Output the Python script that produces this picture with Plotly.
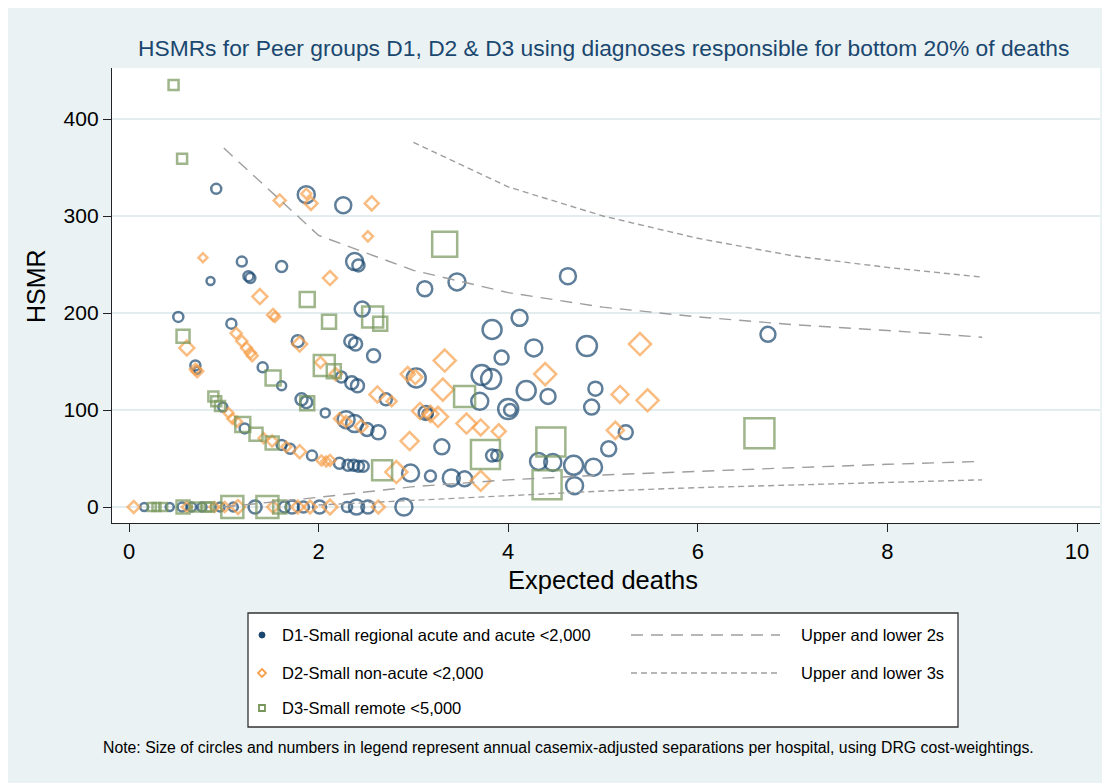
import plotly.graph_objects as go

# ---------------- data ----------------
# D1: Small regional acute and acute <2,000 (expected deaths, HSMR, separations)
d1_x = [0.92, 1.87, 2.26, 1.19, 0.86, 1.26, 1.28, 1.61, 2.38, 2.42,
        3.12, 3.46, 4.63, 0.52, 1.08, 2.46, 4.12, 3.83, 4.27, 4.83,
        6.74, 2.34, 2.39, 2.58, 3.93, 1.78, 0.70, 0.72, 1.41, 1.61,
        3.72, 3.82, 3.03, 4.19, 4.42, 4.92, 4.88, 3.70, 4.00, 4.02,
        2.24, 2.35, 2.41, 2.71, 1.82, 1.87, 2.07, 3.13, 3.15, 0.99,
        1.22, 1.61, 1.70, 1.93, 2.29, 2.38, 2.51, 2.63, 3.30, 3.83,
        3.88, 4.32, 4.47, 4.69, 4.90, 5.06, 5.24, 2.97, 3.18, 3.40,
        3.54, 4.70, 2.22, 2.31, 2.37, 2.42, 2.47,
        0.16, 0.43, 0.56, 0.66, 0.77, 0.96, 1.10, 1.33, 1.64, 1.72,
        1.84, 2.01, 2.30, 2.40, 2.52, 2.90]
d1_y = [328, 322, 311, 253, 233, 238, 236, 248, 253, 249,
        225, 232, 238, 196, 189, 204, 195, 183, 164, 166,
        178, 171, 168, 156, 154, 171, 146, 141, 144, 125,
        136, 132, 133, 120, 114, 122, 103, 109, 101, 100,
        134, 128, 125, 111, 111, 108, 97, 97, 96, 103,
        81, 64, 60, 53, 90, 86, 80, 77, 62, 53,
        53, 47, 46, 43, 41, 60, 77, 35, 32, 30,
        29, 22, 45, 43, 43, 42, 42,
        0, 0, 0, 0, 0, 0, 0, 0, 0, 0,
        0, 0, 0, 0, 0, 0]
d1_sep = [500, 1445, 1280, 500, 320, 500, 500, 605, 1445, 720,
          1125, 1445, 1280, 500, 500, 1125, 1280, 1805, 1445, 2000,
          1125, 845, 845, 845, 980, 720, 500, 245, 500, 405,
          2000, 2000, 1805, 1805, 1125, 980, 1125, 1445, 2000, 720,
          605, 845, 845, 720, 720, 720, 405, 980, 500, 405,
          500, 500, 500, 500, 1445, 1445, 845, 980, 1125, 720,
          605, 1445, 1445, 1805, 1445, 1125, 980, 1445, 605, 1445,
          1125, 1445, 605, 605, 605, 605, 605,
          320, 320, 405, 405, 405, 405, 405, 845, 605, 845,
          605, 845, 500, 1125, 845, 1445]

# D2: Small non-acute <2,000
d2_x = [1.59, 1.87, 1.92, 2.56, 2.52, 0.78, 2.12, 1.38, 1.52, 1.54,
        0.61, 1.13, 1.19, 1.24, 1.28, 1.30, 0.72, 0.70, 1.80, 3.33,
        4.39, 5.39, 5.47, 5.18, 3.31, 2.94, 3.02, 2.02, 2.18, 2.62,
        2.77, 3.07, 3.18, 3.26, 3.56, 3.71, 3.90, 2.96, 2.22, 2.29,
        2.45, 5.13, 3.71, 2.82, 1.05, 1.09, 1.14, 1.42, 1.51, 1.66,
        1.80, 2.03, 2.08, 2.12,
        0.05, 0.61, 0.90, 1.01, 1.15, 1.52, 1.78, 1.91, 2.12, 2.63]
d2_y = [316, 323, 313, 313, 279, 257, 236, 217, 198, 196,
        164, 179, 171, 164, 159, 156, 140, 142, 168, 151,
        137, 168, 110, 116, 121, 137, 134, 149, 137, 116,
        109, 99, 96, 93, 86, 82, 78, 68, 91, 88,
        83, 79, 27, 36, 97, 91, 88, 71, 68, 62,
        57, 48, 47, 48,
        0, 0, 0, 0, 0, 0, 0, 0, 0, 0]
d2_sep = [426, 296, 500, 580, 296, 240, 580, 666, 426, 296,
          666, 358, 358, 358, 358, 358, 426, 358, 666, 1432,
          1432, 1432, 1432, 855, 1432, 580, 580, 358, 426, 758,
          296, 758, 758, 1184, 1184, 758, 580, 959, 358, 358,
          500, 855, 1184, 1432, 296, 296, 296, 296, 358, 296,
          500, 296, 296, 358,
          426, 296, 296, 296, 580, 426, 500, 500, 666, 500]

# D3: Small remote <5,000
d3_x = [0.47, 0.56, 1.88, 3.33, 2.57, 2.65, 2.11, 0.57, 1.52, 2.06,
        2.16, 3.54, 1.88, 0.89, 0.92, 0.96, 1.20, 1.34, 1.51, 4.45,
        3.76, 6.65, 2.67, 4.41,
        0.24, 0.29, 0.36, 0.57, 0.71, 0.82, 0.85, 1.09, 1.46, 1.59]
d3_y = [435, 359, 214, 271, 196, 189, 191, 176, 133, 146,
        140, 114, 107, 114, 109, 104, 85, 75, 66, 67,
        54, 76, 38, 23,
        0, 0, 0, 0, 0, 0, 0, 0, 0, 0]
d3_sep = [500, 500, 1125, 3125, 2205, 980, 980, 845, 1125, 2205,
          980, 2205, 980, 500, 500, 500, 1125, 845, 845, 4205,
          4205, 4500, 2000, 4205,
          320, 320, 320, 845, 405, 405, 405, 2420, 2420, 845]

# Control limits
lim2_x = [1, 2, 3, 4, 5, 6, 7, 8, 9]
upper2 = [370, 280, 244, 221, 206, 196, 188, 182, 175]
lower2 = [0, 10, 21, 28, 33, 37, 40.5, 44, 47]
upper3_x = [3, 4, 5, 6, 7, 8, 9]
upper3 = [376, 330, 300, 277, 259, 247, 237]
lower3_x = [2, 3, 4, 5, 6, 7, 8, 9]
lower3 = [2, 7, 12, 16.5, 20, 22.5, 25.5, 28]

x_ticks = [0, 2, 4, 6, 8, 10]
y_ticks = [0, 100, 200, 300, 400]

title_text = "HSMRs for Peer groups D1, D2 &amp; D3 using diagnoses responsible for bottom 20% of deaths"
legend_labels = ["D1-Small regional acute and acute <2,000",
                 "D2-Small non-acute <2,000",
                 "D3-Small remote <5,000"]
line_labels = ["Upper and lower 2s", "Upper and lower 3s"]
note_text = ("Note: Size of circles and numbers in legend represent annual casemix-adjusted "
             "separations per hospital, using DRG cost-weightings.")

# ---------------- styling / layout ----------------
SW, SH = 1110, 783                # screenshot size
OFF = 8                           # page body margin
W, H = SW - OFF, SH - OFF         # figure size
L, R, T, B = 112, 1100, 68, 523   # plot area (screen px)
X0PX, XPU = 129, 94.8             # screen px of x=0, px per unit
Y0PX, YPU = 507, 0.970            # screen px of y=0, px per HSMR unit

xr = [(L - X0PX) / XPU, (R - X0PX) / XPU]
yr = [(Y0PX - B) / YPU, (Y0PX - T) / YPU]

def fx(px):
    return (px - L) / (R - L)

def fy(py):
    return (B - py) / (B - T)

NAVY = "#1A476F"
ORANGE = "#F6A04B"
GREEN = "#76955A"
GRAY = "#9E9E9E"
BG = "#EAF2F3"
FONT = "Liberation Sans, Arial, Helvetica, sans-serif"

def msize(sep):
    return [(s / 5.0) ** 0.5 for s in sep]

fig = go.Figure()

for xs, ys, sep, sym, col in [
    (d1_x, d1_y, d1_sep, "circle-open", NAVY),
    (d2_x, d2_y, d2_sep, "diamond-open", ORANGE),
    (d3_x, d3_y, d3_sep, "square-open", GREEN),
]:
    fig.add_trace(go.Scatter(
        x=xs, y=ys, mode="markers", showlegend=False, hoverinfo="skip",
        marker=dict(symbol=sym, size=msize(sep), color=col,
                    line=dict(color=col, width=2.5))))

long_dash = "12px,8px"
short_dash = "6px,4px"
for xs, ys, dash in [(lim2_x, upper2, long_dash), (lim2_x, lower2, long_dash),
                     (upper3_x, upper3, short_dash), (lower3_x, lower3, short_dash)]:
    fig.add_trace(go.Scatter(x=xs, y=ys, mode="lines", showlegend=False,
                             hoverinfo="skip",
                             line=dict(color=GRAY, width=1.4, dash=dash)))

shapes = []
# legend box
shapes.append(dict(type="rect", xref="paper", yref="paper",
                   x0=fx(248), x1=fx(958), y0=fy(727), y1=fy(613),
                   fillcolor="white", line=dict(color="#333333", width=1.3)))
rows = [635, 673, 708]
mx = 262
# D1 dot
shapes.append(dict(type="circle", xref="paper", yref="paper",
                   x0=fx(mx - 3), x1=fx(mx + 3), y0=fy(rows[0] + 3), y1=fy(rows[0] - 3),
                   fillcolor=NAVY, line=dict(color=NAVY, width=1)))
# D2 small diamond
r = 4
shapes.append(dict(type="path", xref="paper", yref="paper",
                   path=(f"M {fx(mx)},{fy(rows[1] - r)} L {fx(mx + r)},{fy(rows[1])} "
                         f"L {fx(mx)},{fy(rows[1] + r)} L {fx(mx - r)},{fy(rows[1])} Z"),
                   line=dict(color=ORANGE, width=1.8)))
# D3 small square
s = 3
shapes.append(dict(type="rect", xref="paper", yref="paper",
                   x0=fx(mx - s), x1=fx(mx + s), y0=fy(rows[2] + s), y1=fy(rows[2] - s),
                   line=dict(color=GREEN, width=1.8)))
# line samples
for yy, dash in [(rows[0], long_dash), (rows[1], short_dash)]:
    shapes.append(dict(type="line", xref="paper", yref="paper",
                       x0=fx(631), x1=fx(780), y0=fy(yy), y1=fy(yy),
                       line=dict(color=GRAY, width=1.4, dash=dash)))

annotations = []
annotations.append(dict(text=title_text, xref="paper", yref="paper",
                        x=fx(603), y=fy(48), xanchor="center", yanchor="middle",
                        showarrow=False, font=dict(family=FONT, size=22.8, color=NAVY)))
annotations.append(dict(text="Expected deaths", xref="paper", yref="paper",
                        x=fx(603), y=fy(580), xanchor="center", yanchor="middle",
                        showarrow=False, font=dict(family=FONT, size=25.5, color="black")))
annotations.append(dict(text="HSMR", xref="paper", yref="paper", textangle=-90,
                        x=fx(36), y=fy(286), xanchor="center", yanchor="middle",
                        showarrow=False, font=dict(family=FONT, size=25, color="black")))
for lbl, yy in zip(legend_labels, rows):
    annotations.append(dict(text=lbl.replace("<", "&lt;"), xref="paper", yref="paper",
                            x=fx(280), y=fy(yy), xanchor="left", yanchor="middle",
                            showarrow=False, font=dict(family=FONT, size=16.5, color="black")))
for lbl, yy in zip(line_labels, rows[:2]):
    annotations.append(dict(text=lbl, xref="paper", yref="paper",
                            x=fx(799), y=fy(yy), xanchor="left", yanchor="middle",
                            showarrow=False, font=dict(family=FONT, size=16.5, color="black")))
annotations.append(dict(text=note_text, xref="paper", yref="paper",
                        x=fx(568), y=fy(747), xanchor="center", yanchor="middle",
                        showarrow=False, font=dict(family=FONT, size=15.8, color="black")))

fig.update_layout(
    width=W, height=H,
    margin=dict(l=L - OFF, r=SW - R, t=T - OFF, b=SH - B, pad=0),
    paper_bgcolor=BG, plot_bgcolor="white",
    font=dict(family=FONT, size=21, color="black"),
    shapes=shapes, annotations=annotations,
    xaxis=dict(range=xr, tickvals=x_ticks, ticktext=[str(v) for v in x_ticks],
               showgrid=False, zeroline=False, showline=True, linecolor="#222222",
               linewidth=1.3, ticks="outside", ticklen=8, tickwidth=1.3,
               tickcolor="#222222", tickfont=dict(size=22), fixedrange=True),
    yaxis=dict(range=yr, tickvals=y_ticks, ticktext=[str(v) for v in y_ticks],
               showgrid=True, gridcolor="#E3ECEE", gridwidth=2, zeroline=False,
               showline=True, linecolor="#222222", linewidth=1.3, ticks="outside",
               ticklen=8, tickwidth=1.3, tickcolor="#222222",
               tickfont=dict(size=21), fixedrange=True),
)

fig.write_html("out.html")
